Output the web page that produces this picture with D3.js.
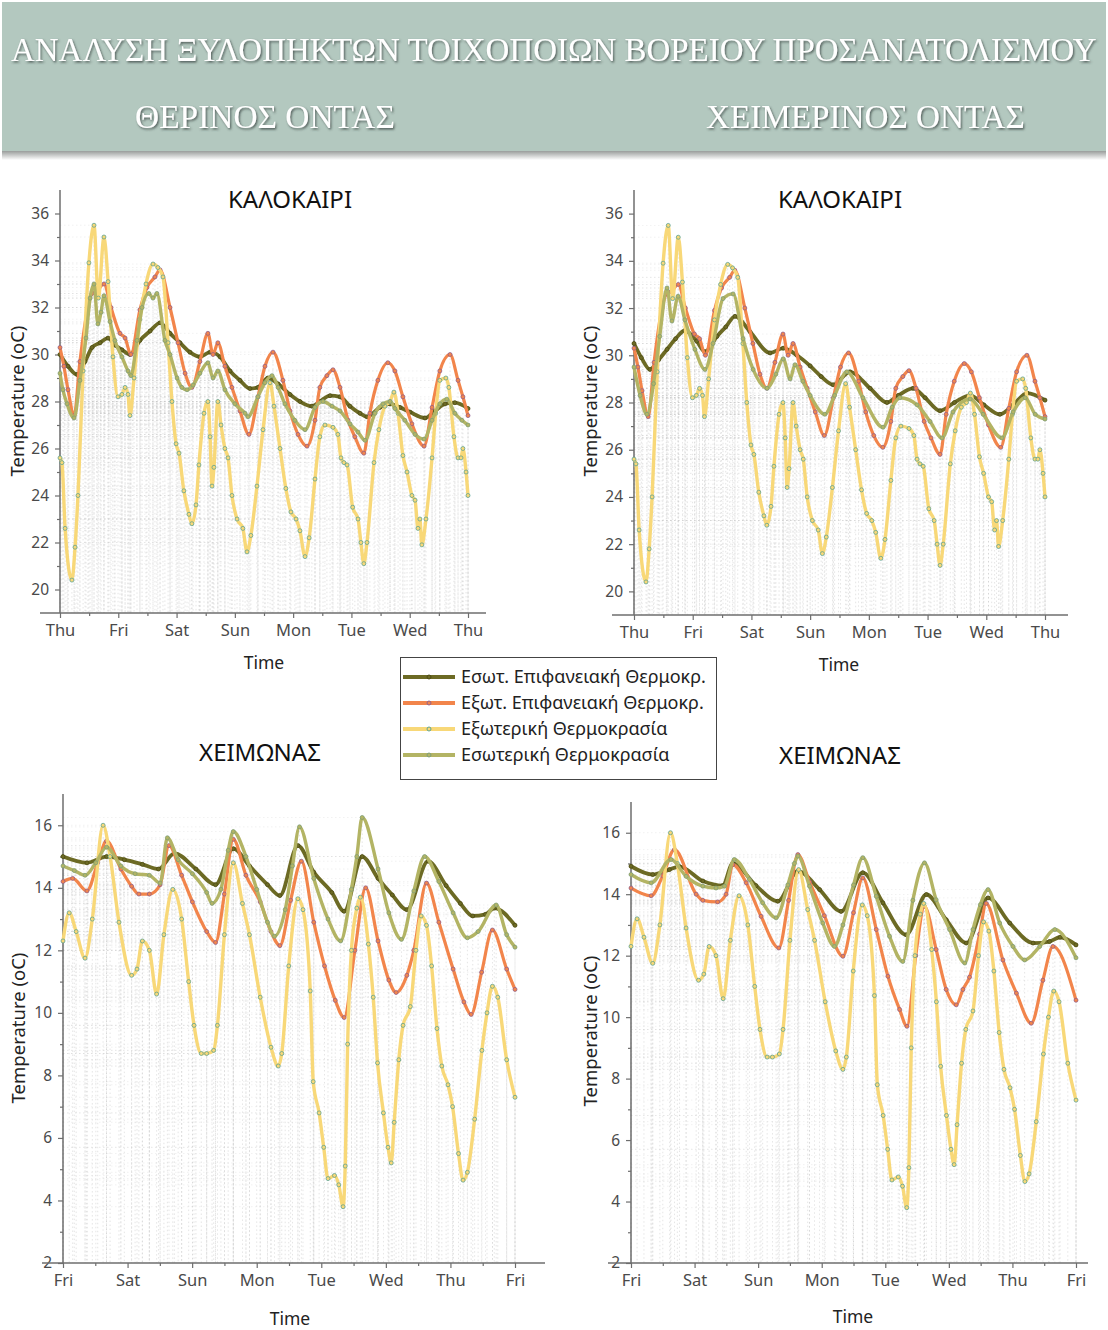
<!DOCTYPE html>
<html>
<head>
<meta charset="utf-8">
<script src="https://cdn.jsdelivr.net/npm/d3@7"></script>
<style>
  body { margin: 0; background: #fff; }
  svg { display: block; }
  .lbl { font-family: "Noto Sans", "Open Sans", sans-serif; }
</style>
</head>
<body>
<svg id="chart" width="1108" height="1330"></svg>
<script>
// ---------- tick labels ----------
const summerDays = ["Thu", "Fri", "Sat", "Sun", "Mon", "Tue", "Wed", "Thu"];
const winterDays = ["Fri", "Sat", "Sun", "Mon", "Tue", "Wed", "Thu", "Fri"];
const summerTicks = [20, 22, 24, 26, 28, 30, 32, 34, 36];
const winterTicks = [2, 4, 6, 8, 10, 12, 14, 16];

// ---------- series: [hour from start of week, °C] ----------
// Summer week, outdoor air temperature (same weather for both rooms)
const outdoorSummer = [[0,25.6],[0.8,25.4],[2.1,22.6],[4.9,20.4],[6.2,21.8],[7.4,24.0],[9.5,29.3],[11.9,33.9],[14,35.5],[15.8,32.4],[18.1,35.0],[19.8,33.1],[21.8,29.9],[23.9,28.2],[25.5,28.3],[26.8,28.6],[28,28.3],[28.8,27.4],[30.5,29.0],[32.9,31.5],[35.4,33.0],[38.3,33.85],[40.3,33.7],[42.4,33.3],[44.5,30.5],[46.1,28.0],[47.8,26.2],[49,25.8],[51,24.2],[53.1,23.2],[54.3,22.8],[56,23.6],[57.2,25.3],[59.3,27.5],[60.9,28.0],[61.8,26.5],[62.6,24.4],[63.4,25.2],[65,28.0],[66.3,27.0],[67.9,26.0],[69.2,25.6],[70.8,24.0],[72.9,23.0],[75.3,22.6],[77,21.6],[78.6,22.3],[81.1,24.4],[83.6,26.8],[86.5,28.8],[88.1,27.8],[90.6,26.0],[93,24.3],[95.1,23.3],[97.2,23.0],[98.8,22.5],[100.9,21.4],[102.6,22.2],[105,24.7],[107,26.5],[109.1,27.0],[112.4,26.9],[114.4,26.6],[115.7,25.6],[116.9,25.4],[118.2,25.3],[120.5,23.5],[122.7,23.0],[123.9,22.0],[125.1,21.1],[126.4,22.0],[129.3,25.4],[131.3,26.8],[133.8,27.8],[135.9,28.0],[137.5,28.4],[139.2,27.5],[141.2,25.7],[142.9,25.0],[144.9,24.0],[146.2,23.8],[147.4,22.6],[148.2,23.0],[149,21.9],[150.7,23.0],[153.2,25.6],[154.7,27.5],[156.4,28.9],[158.9,29.0],[160.1,28.6],[162.2,26.5],[163.9,25.6],[165.1,25.6],[165.9,26.0],[167.2,25.0],[168,24.0]];

// Summer week, external wall surface
const extSurfSummer = [[0,30.3],[1.6,29.5],[3.3,28.5],[5.8,27.4],[8.2,29.7],[11.5,32.0],[13.2,32.6],[15.2,32.7],[18.1,33.0],[21,32.0],[24.7,30.9],[26.8,30.7],[29.2,30.0],[32.9,31.9],[35.8,32.85],[39.1,33.3],[41.2,33.6],[45.3,32.0],[48.6,30.5],[51.5,29.2],[54.3,28.6],[57.6,29.7],[60.9,30.9],[63,30.0],[65,30.5],[67.9,29.5],[70.8,28.6],[74.1,27.6],[77.8,26.6],[81.5,28.2],[84.4,29.5],[87.7,30.1],[91.8,28.9],[94.7,27.6],[98,26.6],[101.7,26.1],[105,27.2],[107,28.6],[109.9,29.1],[112.4,29.35],[115.3,28.6],[118.6,27.2],[121.4,26.5],[125.1,25.8],[127.6,27.5],[130.9,28.9],[135,29.65],[137.9,29.3],[141.2,28.2],[144.9,27.05],[149.9,26.1],[153.2,27.75],[156.4,29.3],[160.6,30.0],[163.9,28.9],[165.9,28.2],[168,27.4]];

// Summer week, θερινός όντας
const intSurfSummerTher = [[0,30.0],[3.3,29.5],[7,29.15],[10.3,29.7],[13.2,30.3],[16.5,30.5],[19.8,30.7],[22.6,30.4],[25.5,30.2],[28.8,30.0],[32.9,30.6],[37.1,31.0],[41.2,31.35],[45.3,30.9],[49.4,30.5],[53.5,30.1],[57.6,29.9],[61.8,30.1],[65.9,29.9],[70,29.3],[74.1,28.9],[78.2,28.55],[81.5,28.6],[85.6,29.0],[89.8,28.75],[94.7,28.3],[98.8,28.0],[103.7,27.8],[107,28.0],[111.2,28.25],[115.3,28.2],[119.4,27.8],[123.5,27.5],[126.4,27.35],[131.7,27.75],[135.9,27.9],[140,27.75],[144.1,27.55],[150.3,27.3],[154.4,27.6],[158.5,27.9],[162.6,27.95],[168,27.7]];
const indoorSummerTher = [[0,29.2],[1.2,28.5],[2.9,27.9],[5.8,27.3],[8.2,28.9],[10.7,30.7],[12.4,32.4],[14,33.0],[15.6,31.3],[16.9,31.8],[18.1,32.5],[20.6,31.4],[22.6,30.6],[25.5,29.9],[28,29.3],[29.2,29.1],[31.7,30.6],[33.8,32.0],[36.6,32.6],[38.3,32.4],[39.9,32.6],[43.2,30.6],[45.3,30.0],[48.2,29.0],[50.2,28.6],[52.3,28.5],[54.8,28.7],[57.6,29.2],[60.9,29.65],[63,29.0],[65,29.3],[67.9,28.5],[72,27.9],[76.2,27.5],[77.4,27.35],[81.5,28.2],[84.4,28.8],[87.3,29.1],[89.8,28.6],[92.6,27.9],[96.7,27.2],[100.9,26.8],[105,27.75],[108.3,28.0],[112,27.8],[115.3,27.6],[119.4,27.05],[122.7,26.7],[125.6,26.35],[129.7,27.5],[133,27.9],[135.9,28.0],[137.9,27.7],[142,27.2],[146.2,26.6],[149.9,26.4],[153.2,27.2],[156.4,27.9],[159.3,28.1],[162.6,27.5],[165.5,27.2],[168,27.0]];

// Summer week, χειμερινός όντας
const intSurfSummerCheim = [[0,30.5],[3,29.9],[6.5,29.4],[10,29.8],[13.5,30.25],[17,30.7],[20.8,31.05],[25.6,30.6],[29,30.15],[33.9,30.8],[37.5,31.2],[41.3,31.65],[47.4,31.0],[55.6,30.1],[61,30.3],[66.6,30.0],[72,29.55],[76.5,29.1],[81.4,28.75],[88.3,29.3],[96.5,28.6],[103.4,28.0],[108,28.3],[114.1,28.6],[119,28.2],[125.1,27.65],[131,28.0],[137.4,28.3],[143,27.9],[149.6,27.5],[155,27.9],[160.7,28.4],[168,28.1]];
const indoorSummerCheim = [[0,29.5],[2.5,28.3],[5.3,27.5],[8,28.8],[10.5,30.8],[13.5,32.85],[15.5,31.45],[18,32.5],[20.8,31.5],[24.9,30.25],[29,29.4],[32.3,30.5],[36.4,32.4],[40.5,32.6],[44.6,30.7],[48.7,29.4],[54.4,28.6],[58,29.2],[61,29.85],[63.8,29.0],[65.8,29.6],[69,28.9],[72,28.3],[78,27.5],[82,28.3],[87,29.3],[93.6,28.2],[101.8,26.95],[105.5,27.8],[108.7,28.2],[115.7,27.9],[121,27.2],[125.9,26.5],[130.4,27.6],[137.4,28.15],[142.7,27.5],[150.4,26.5],[155,27.6],[159.9,28.2],[164,27.5],[168,27.3]];

// Winter week, outdoor air temperature (same weather for both rooms)
const outdoorWinter = [[0,12.3],[2.3,13.2],[4.9,12.6],[8.2,11.75],[10.9,13.0],[14.9,16.0],[17.5,15.0],[20.8,12.9],[25.5,11.2],[27.5,11.4],[29.5,12.3],[32.1,12.0],[34.8,10.6],[37.5,12.5],[40.8,13.95],[44.1,13.0],[46.7,11.0],[48.7,9.6],[51.4,8.7],[53.4,8.7],[56,8.8],[57.4,9.6],[60,12.5],[63.3,14.8],[66.7,13.5],[69.3,12.5],[73.3,10.5],[77.3,8.9],[80,8.3],[81.3,8.7],[83.9,11.5],[87.3,13.65],[89.2,13.3],[91.9,10.7],[93,7.8],[95.2,6.8],[96.9,5.7],[98.5,4.7],[100.9,4.8],[102.5,4.5],[104.1,3.8],[104.9,5.1],[105.8,9.0],[107.2,12.0],[109.2,13.35],[110.5,13.7],[113.5,12.2],[115.3,10.5],[116.9,8.4],[119.1,6.8],[120.8,5.7],[122,5.2],[123.1,6.5],[124.8,8.5],[126.4,9.6],[129.1,10.2],[131.2,12.0],[133.1,13.1],[135.1,12.8],[137,11.5],[139,9.5],[140.8,8.3],[143.1,7.7],[144.8,7.0],[147,5.5],[148.7,4.65],[150.3,4.9],[153,6.6],[155.7,8.8],[157.6,10.0],[159.6,10.85],[161.6,10.5],[164.9,8.5],[168,7.3]];

// Winter week, θερινός όντας
const extSurfWinterTher = [[0,14.2],[3.6,14.3],[8.9,13.9],[12.9,14.8],[16.2,15.5],[21.5,14.6],[25.5,14.05],[28.2,13.8],[32.1,13.8],[36.1,14.1],[39.4,15.35],[44.1,14.4],[48.1,13.55],[53.4,12.6],[56.7,12.25],[60,13.8],[63.3,15.55],[68,14.4],[73.3,13.55],[77.3,12.6],[80.6,12.15],[84.6,13.6],[88.6,14.85],[93.2,12.9],[97.2,11.5],[101.2,10.4],[104.5,9.85],[108.5,12.0],[112.5,14.0],[117.1,12.3],[121.1,11.05],[123.8,10.65],[127.8,11.2],[130.4,12.0],[135.1,14.15],[139.7,12.9],[145,11.4],[149,10.35],[151.7,9.95],[155.6,11.3],[159.6,12.65],[164.9,11.4],[168,10.75]];
const intSurfWinterTher = [[0,15.0],[8.9,14.8],[16.2,15.0],[22.8,14.9],[29.5,14.75],[35.5,14.6],[41.4,15.1],[49.4,14.6],[56.7,14.1],[63.3,15.25],[69.3,14.7],[76,14.1],[80.6,13.75],[87.3,15.35],[93.2,14.5],[99.9,13.85],[104.5,13.25],[111.2,15.0],[117.1,14.3],[122.4,13.77],[127.8,13.3],[135.7,14.85],[142.4,14.07],[147.7,13.5],[152.3,13.1],[157,13.15],[160.3,13.35],[168,12.8]];
const indoorWinterTher = [[0,14.7],[4.2,14.55],[8.2,14.4],[12.2,14.8],[16.2,15.3],[21.5,14.7],[26.8,14.45],[32.1,14.4],[36.1,14.15],[38.8,15.6],[42.8,14.9],[48.1,14.45],[53.4,13.85],[55.4,13.5],[58.7,13.95],[61.4,15.2],[63.3,15.8],[68,15.0],[72,13.95],[76,12.9],[78.6,12.45],[82.6,13.3],[85.3,14.7],[87.9,15.95],[93.2,14.3],[98.5,13.0],[103.2,12.3],[107.2,13.95],[109.2,15.0],[111.2,16.25],[117.1,14.6],[121.1,13.2],[125.8,12.35],[130.4,13.9],[134.4,15.0],[139.7,14.2],[145,13.2],[150.3,12.4],[154.3,12.6],[161,13.45],[164.9,12.5],[168,12.1]];

// Winter week, χειμερινός όντας
const extSurfWinterCheim = [[0,14.2],[7.6,13.95],[12,14.6],[16.4,15.45],[24.6,14.0],[27.1,13.8],[32.7,13.75],[35.9,14.0],[38.4,14.96],[43.5,14.37],[49.1,13.28],[55.8,12.25],[59.5,13.8],[63,15.29],[67.4,14.4],[73,13.3],[80,11.98],[84,13.4],[87.5,14.53],[92.6,12.85],[97,11.33],[101.4,10.25],[104.2,9.7],[107.5,12.0],[110.8,13.6],[115.2,12.2],[119,10.9],[122.8,10.4],[125.3,10.9],[127.8,11.3],[131.6,12.7],[134.1,13.7],[140.4,11.86],[145.5,10.78],[151.1,9.8],[155.5,11.2],[159.3,12.3],[168,10.55]];
const intSurfWinterCheim = [[0,14.91],[8.2,14.64],[14.5,14.8],[18.3,14.9],[27.1,14.43],[34.6,14.28],[38.4,15.0],[47.2,14.28],[55.4,13.77],[63,14.75],[71.2,14.15],[79.3,13.44],[87.5,14.7],[95.1,13.72],[103.9,12.68],[111.5,13.99],[119,13.17],[126.6,12.41],[134.8,13.88],[143,13.06],[151.8,12.41],[158,12.46],[162,12.6],[168,12.35]];
const indoorWinterCheim = [[0,14.64],[7.6,14.37],[15.1,15.13],[20.8,14.58],[27.1,14.26],[32.1,14.2],[35.3,14.26],[39,15.13],[44.7,14.48],[49.7,13.72],[54.8,13.23],[59.2,14.3],[61.7,15.0],[63,15.24],[67.4,14.26],[72.4,13.06],[76.8,12.3],[80,13.0],[84,14.3],[87.5,15.19],[92.6,13.93],[97.6,12.63],[102.6,11.81],[106.4,13.8],[110.8,15.02],[115.2,13.82],[120.3,12.85],[126,11.76],[129.1,12.85],[131.9,13.66],[134.8,14.15],[139.2,13.06],[144.2,12.3],[148.6,11.86],[154.3,12.3],[160,12.85],[168,11.93]];

// ---------- legend / styling ----------
const seriesNames = ["Εσωτ. Επιφανειακή Θερμοκρ.", "Εξωτ. Επιφανειακή Θερμοκρ.", "Εξωτερική Θερμοκρασία", "Εσωτερική Θερμοκρασία"];
const seriesKeys = ["intSurf", "extSurf", "outdoor", "indoor"];
const style = {
  intSurf: { color: "#6c6a24", marker: "#4a4812", width: 3.8 },
  extSurf: { color: "#f2854b", marker: "#8b5c8e", width: 3.2 },
  outdoor: { color: "#f8d878", marker: "#4f9e94", width: 3.4 },
  indoor:  { color: "#b3b464", marker: "#7a9c78", width: 3.4 }
};

const svg = d3.select("#chart");
const defs = svg.append("defs");

// ---------- header band ----------
const shadow = defs.append("filter").attr("id", "txtShadow").attr("x", "-2%").attr("y", "-30%").attr("width", "104%").attr("height", "160%");
shadow.append("feDropShadow").attr("dx", 1.2).attr("dy", 1.5).attr("stdDeviation", 1.1)
  .attr("flood-color", "#3d4a45").attr("flood-opacity", 0.85);

const grad = defs.append("linearGradient").attr("id", "bandShade").attr("x1", 0).attr("y1", 0).attr("x2", 0).attr("y2", 1);
grad.append("stop").attr("offset", "0%").attr("stop-color", "#8e9290");
grad.append("stop").attr("offset", "100%").attr("stop-color", "#ffffff");

svg.append("rect").attr("x", 2).attr("y", 150).attr("width", 1104).attr("height", 10).attr("fill", "url(#bandShade)");
svg.append("rect").attr("x", 2).attr("y", 2).attr("width", 1104).attr("height", 149).attr("fill", "#b3c8bf");

const headFont = "'Liberation Serif', 'DejaVu Serif', serif";
const headers = [
  { text: "ΑΝΑΛΥΣΗ ΞΥΛΟΠΗΚΤΩΝ ΤΟΙΧΟΠΟΙΩΝ ΒΟΡΕΙΟΥ ΠΡΟΣΑΝΑΤΟΛΙΣΜΟΥ", x: 11, y: 61, len: 1086 },
  { text: "ΘΕΡΙΝΟΣ ΟΝΤΑΣ", x: 135, y: 128, len: 260 },
  { text: "ΧΕΙΜΕΡΙΝΟΣ ΟΝΤΑΣ", x: 706, y: 128, len: 319 }
];
headers.forEach(h => {
  // condensed serif caps: measure the natural width, then squeeze horizontally to the band width
  const t = svg.append("text").attr("x", 0).attr("y", 0)
    .style("font-family", headFont).style("font-size", "34px")
    .attr("fill", "#ffffff").attr("filter", "url(#txtShadow)")
    .text(h.text);
  const natural = t.node().getComputedTextLength();
  t.attr("transform", `translate(${h.x},${h.y}) scale(${h.len / natural},1)`);
});

// ---------- panels ----------
const panels = [
  { days: summerDays, ticks: summerTicks, yDomain: [19, 37], left: 60, right: 468, top: 190, bottom: 613,
    axisL: 40, axisR: 486, title: "ΚΑΛΟΚΑΙΡΙ", titleX: 290, titleY: 208, timeX: 264, timeY: 669, ylabX: 24, ylabY: 401,
    data: { intSurf: intSurfSummerTher, extSurf: extSurfSummer, outdoor: outdoorSummer, indoor: indoorSummerTher } },
  { days: summerDays, ticks: summerTicks, yDomain: [19, 37], left: 634, right: 1045, top: 190, bottom: 615,
    axisL: 612, axisR: 1068, title: "ΚΑΛΟΚΑΙΡΙ", titleX: 840, titleY: 208, timeX: 839, timeY: 671, ylabX: 597, ylabY: 401,
    data: { intSurf: intSurfSummerCheim, extSurf: extSurfSummer, outdoor: outdoorSummer, indoor: indoorSummerCheim } },
  { days: winterDays, ticks: winterTicks, yDomain: [2, 17], left: 63, right: 515, top: 794, bottom: 1263,
    axisL: 42, axisR: 545, title: "ΧΕΙΜΩΝΑΣ", titleX: 260, titleY: 761, timeX: 290, timeY: 1325, ylabX: 25, ylabY: 1028,
    data: { intSurf: intSurfWinterTher, extSurf: extSurfWinterTher, outdoor: outdoorWinter, indoor: indoorWinterTher } },
  { days: winterDays, ticks: winterTicks, yDomain: [2, 17], left: 631, right: 1076, top: 802, bottom: 1263,
    axisL: 608, axisR: 1088, title: "ΧΕΙΜΩΝΑΣ", titleX: 840, titleY: 764, timeX: 853, timeY: 1323, ylabX: 597, ylabY: 1031,
    data: { intSurf: intSurfWinterCheim, extSurf: extSurfWinterCheim, outdoor: outdoorWinter, indoor: indoorWinterCheim } }
];

const axisColor = "#6e6e6e";
const tickFont = "'Noto Sans', 'Open Sans', sans-serif";

panels.forEach(p => {
  const hours = d3.range(0, 169, 24);
  const x = d3.scaleLinear().domain([0, 168]).range([p.left, p.right]);
  const y = d3.scaleLinear().domain(p.yDomain).range([p.bottom, p.top]);
  const g = svg.append("g");

  // drop lines from each data point to both axes
  const drops = g.append("g");
  seriesKeys.forEach(k => {
    p.data[k].forEach(d => {
      drops.append("line").attr("x1", x(d[0])).attr("x2", x(d[0])).attr("y1", y(d[1])).attr("y2", p.bottom)
        .attr("stroke", "#c4c4c4").attr("stroke-width", 0.8).attr("stroke-dasharray", "1.5,2.5").attr("opacity", 0.55);
      drops.append("line").attr("x1", p.left).attr("x2", x(d[0])).attr("y1", y(d[1])).attr("y2", y(d[1]))
        .attr("stroke", "#c8c8c8").attr("stroke-width", 0.8).attr("stroke-dasharray", "1.5,2.5").attr("opacity", 0.3);
    });
  });

  // axes
  const yMinor = d3.range(p.ticks[0] + 1, p.ticks[p.ticks.length - 1], 2);
  const yAxis = g.append("g").attr("transform", `translate(${p.left},0)`)
    .call(d3.axisLeft(y).tickValues(p.ticks).tickSize(5).tickPadding(6).tickFormat(d3.format("d")));
  const yAxisMinor = g.append("g").attr("transform", `translate(${p.left},0)`)
    .call(d3.axisLeft(y).tickValues(yMinor).tickSize(3).tickFormat(""));
  const xAxis = g.append("g").attr("transform", `translate(0,${p.bottom})`)
    .call(d3.axisBottom(x).tickValues(hours).tickSize(5).tickPadding(6).tickFormat((d, i) => p.days[i]));
  const xAxisMinor = g.append("g").attr("transform", `translate(0,${p.bottom})`)
    .call(d3.axisBottom(x).tickValues(d3.range(12, 168, 24)).tickSize(3).tickFormat(""));
  [yAxis, yAxisMinor, xAxis, xAxisMinor].forEach(a => {
    a.select(".domain").remove();
    a.selectAll(".tick line").attr("stroke", axisColor).attr("stroke-width", 1.2);
    a.selectAll(".tick text").attr("fill", "#4a4a4a").style("font-family", tickFont);
  });
  yAxis.selectAll(".tick text").style("font-size", "15.5px");
  xAxis.selectAll(".tick text").style("font-size", "16.5px");

  g.append("line").attr("x1", p.left).attr("x2", p.left).attr("y1", p.top).attr("y2", p.bottom)
    .attr("stroke", axisColor).attr("stroke-width", 1.5);
  g.append("line").attr("x1", p.axisL).attr("x2", p.axisR).attr("y1", p.bottom).attr("y2", p.bottom)
    .attr("stroke", axisColor).attr("stroke-width", 1.5);

  // series
  const line = d3.line().x(d => x(d[0])).y(d => y(d[1])).curve(d3.curveMonotoneX);
  seriesKeys.forEach(k => {
    const s = style[k];
    g.append("path").datum(p.data[k]).attr("d", line).attr("fill", "none")
      .attr("stroke", s.color).attr("stroke-width", s.width)
      .attr("stroke-linejoin", "round").attr("stroke-linecap", "round");
    g.append("g").selectAll("circle").data(p.data[k]).join("circle")
      .attr("cx", d => x(d[0])).attr("cy", d => y(d[1])).attr("r", 2)
      .attr("fill", s.color).attr("stroke", s.marker).attr("stroke-width", 0.9).attr("stroke-opacity", 0.8);
  });

  // titles
  g.append("text").attr("class", "lbl").attr("x", p.titleX).attr("y", p.titleY).attr("text-anchor", "middle")
    .style("font-size", "24px").attr("fill", "#111").text(p.title);
  g.append("text").attr("class", "lbl").attr("x", p.timeX).attr("y", p.timeY).attr("text-anchor", "middle")
    .style("font-size", "17.5px").attr("fill", "#222").text("Time");
  g.append("text").attr("class", "lbl").attr("transform", `translate(${p.ylabX},${p.ylabY}) rotate(-90)`)
    .attr("text-anchor", "middle").style("font-size", "18.5px").attr("fill", "#222").text("Temperature (oC)");
});

// ---------- legend ----------
const lg = svg.append("g").attr("transform", "translate(400,657)");
lg.append("rect").attr("x", 0.5).attr("y", 0.5).attr("width", 316).attr("height", 122)
  .attr("fill", "#fff").attr("stroke", "#444").attr("stroke-width", 1);
seriesKeys.forEach((k, i) => {
  const yy = 20 + i * 26;
  lg.append("line").attr("x1", 3).attr("x2", 55).attr("y1", yy).attr("y2", yy)
    .attr("stroke", style[k].color).attr("stroke-width", 4);
  lg.append("circle").attr("cx", 29).attr("cy", yy).attr("r", 2)
    .attr("fill", style[k].color).attr("stroke", style[k].marker).attr("stroke-width", 0.9);
  lg.append("text").attr("class", "lbl").attr("x", 61).attr("y", yy + 6)
    .style("font-size", "18px").attr("fill", "#222").text(seriesNames[i]);
});
</script>
</body>
</html>
